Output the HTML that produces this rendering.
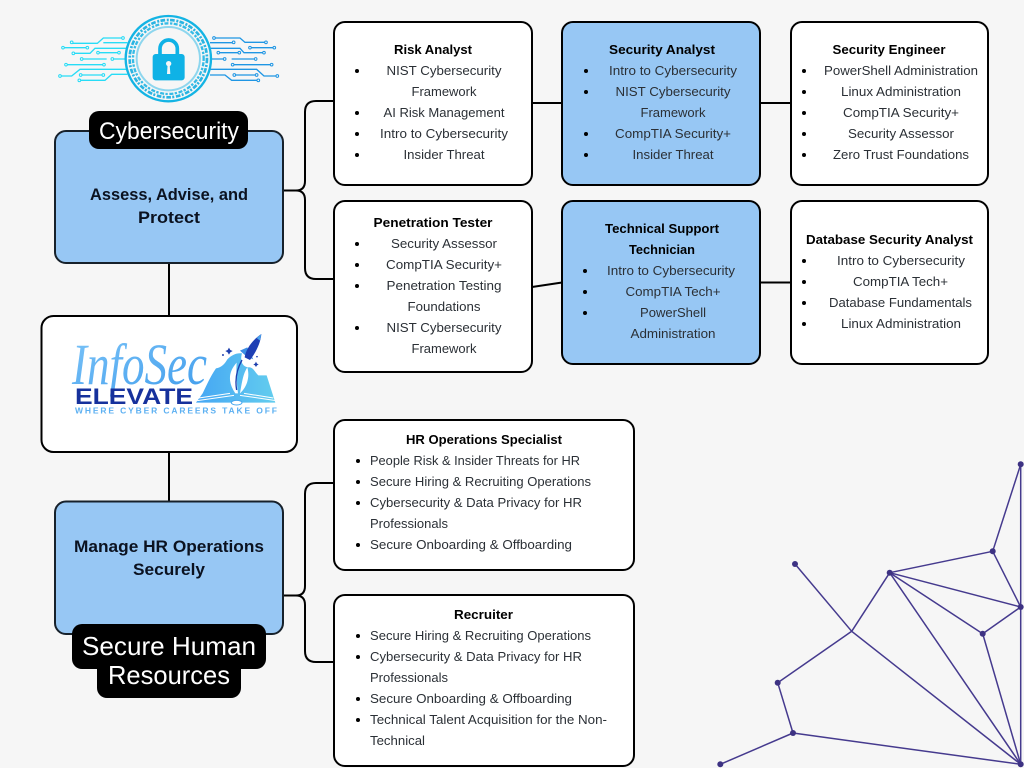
<!DOCTYPE html>
<html lang="en"><head><meta charset="utf-8"><title>Cyber Career Paths</title>
<style>
html,body{margin:0;padding:0;background:#f6f6f6}
svg{display:block}
text{font-family:"Liberation Sans",sans-serif;fill:#2b3036;font-size:13px;text-anchor:middle}
.t{font-weight:bold;fill:#000}
.l{text-anchor:start}
.h{font-size:17px;font-weight:bold;fill:#0b1220}
.w{fill:#fff;font-size:24px}
.box{fill:#fff;stroke:#000;stroke-width:2}
.blue{fill:#97c7f4;stroke:#000;stroke-width:2}
.main{fill:#97c7f4;stroke:#17212b;stroke-width:2}
.c{fill:none;stroke:#000;stroke-width:2}
.n line{stroke:#453a8e;stroke-width:1.5}
.n circle{fill:#3d3283}
.tr{fill:none;stroke-width:4}
</style></head><body>
<svg width="1024" height="768" viewBox="0 0 1024 768" xmlns="http://www.w3.org/2000/svg">
<defs>
<linearGradient id="g1" x1="0" x2="1" y1="0" y2="1"><stop offset="0" stop-color="#7cc4f8"/><stop offset="1" stop-color="#3f9cec"/></linearGradient>
<linearGradient id="g2" x1="0" x2="1" y1="0" y2="0"><stop offset="0" stop-color="#45a6f4"/><stop offset="1" stop-color="#63cdee"/></linearGradient>
</defs>
<rect width="1024" height="768" fill="#f6f6f6"/>

<!-- network -->
<g class="n">
<line x1="1020.7" y1="464.3" x2="992.7" y2="551.3"/>
<line x1="1020.7" y1="464.3" x2="1020.7" y2="764.3"/>
<line x1="992.7" y1="551.3" x2="889.7" y2="572.7"/>
<line x1="992.7" y1="551.3" x2="1020.7" y2="607"/>
<line x1="889.7" y1="572.7" x2="1020.7" y2="607"/>
<line x1="889.7" y1="572.7" x2="982.7" y2="633.7"/>
<line x1="889.7" y1="572.7" x2="1020.7" y2="764.3"/>
<line x1="889.7" y1="572.7" x2="851.7" y2="631.3"/>
<line x1="1020.7" y1="607" x2="982.7" y2="633.7"/>
<line x1="982.7" y1="633.7" x2="1020.7" y2="764.3"/>
<line x1="795" y1="564" x2="851.7" y2="631.3"/>
<line x1="851.7" y1="631.3" x2="1020.7" y2="764.3"/>
<line x1="851.7" y1="631.3" x2="777.7" y2="682.7"/>
<line x1="777.7" y1="682.7" x2="793" y2="733"/>
<line x1="793" y1="733" x2="1020.7" y2="764.3"/>
<line x1="793" y1="733" x2="720.3" y2="764.3"/>
<circle cx="1020.7" cy="464.3" r="3"/><circle cx="992.7" cy="551.3" r="3"/><circle cx="889.7" cy="572.7" r="3"/><circle cx="1020.7" cy="607" r="3"/><circle cx="982.7" cy="633.7" r="3"/><circle cx="795" cy="564" r="3"/><circle cx="777.7" cy="682.7" r="3"/><circle cx="793" cy="733" r="3"/><circle cx="720.3" cy="764.3" r="3"/><circle cx="1020.7" cy="764.3" r="3"/>
</g>

<!-- connectors -->
<path class="c" d="M169 263V316M169 452V501"/>
<path class="c" d="M283 190.5H296Q305 190.5 305 181V112Q305 101 316 101H334M296 190.5Q305 190.5 305 200V268Q305 279 316 279H334"/>
<path class="c" d="M283 595.5H296Q305 595.5 305 586V494Q305 483 316 483H334M296 595.5Q305 595.5 305 605V651Q305 662 316 662H334"/>
<path class="c" d="M532 103H562M760 103H791M532 287L562 282.5M760 282.5H791"/>

<!-- lock emblem -->
<g transform="translate(40 0) scale(.3333)">
<g class="tr" stroke="#27dcf6">
<path d="M249 114H190L172 130H95M262 128H190M69 143H142M100 160H150L165 145H262M174 158H237M125 177H200M217 177H262M78 194H192M60 228H95L120 208H262M122 225H190M118 241H195L215 223H262"/>
<g fill="#f6f6f6" stroke-width="3"><circle cx="249" cy="114" r="4"/><circle cx="95" cy="127" r="4"/><circle cx="69" cy="143" r="4"/><circle cx="142" cy="143" r="4"/><circle cx="100" cy="160" r="4"/><circle cx="174" cy="158" r="4"/><circle cx="237" cy="158" r="4"/><circle cx="125" cy="177" r="4"/><circle cx="217" cy="177" r="4"/><circle cx="78" cy="194" r="4"/><circle cx="192" cy="194" r="4"/><circle cx="60" cy="228" r="4"/><circle cx="122" cy="225" r="4"/><circle cx="190" cy="225" r="4"/><circle cx="118" cy="241" r="4"/></g>
</g>
<g class="tr" stroke="#1f96e4">
<path d="M522 114H600L615 127H678M510 128H580M630 143H703M535 158H598M510 145H600L612 158H672M554 177H510M575 177H647M578 194H695M510 208H650L672 228H712M583 225H650M510 225H555L575 241H655"/>
<g fill="#f6f6f6" stroke-width="3"><circle cx="522" cy="114" r="4"/><circle cx="581" cy="127" r="4"/><circle cx="678" cy="127" r="4"/><circle cx="630" cy="143" r="4"/><circle cx="703" cy="143" r="4"/><circle cx="535" cy="158" r="4"/><circle cx="598" cy="158" r="4"/><circle cx="672" cy="158" r="4"/><circle cx="554" cy="177" r="4"/><circle cx="647" cy="177" r="4"/><circle cx="578" cy="194" r="4"/><circle cx="695" cy="194" r="4"/><circle cx="712" cy="228" r="4"/><circle cx="583" cy="225" r="4"/><circle cx="650" cy="225" r="4"/><circle cx="655" cy="241" r="4"/></g>
</g>
<circle cx="385" cy="176" r="128" fill="#f6f6f6" stroke="#14b4e4" stroke-width="7"/>
<circle cx="385" cy="176" r="116" fill="none" stroke="#2ab4e2" stroke-width="8" stroke-dasharray="14 5 6 4"/>
<circle cx="385" cy="176" r="106" fill="none" stroke="#35bbe6" stroke-width="7" stroke-dasharray="7 4 12 5"/>
<circle cx="385" cy="176" r="95" fill="#f6f6f6" stroke="#8dd6ee" stroke-width="6"/>
<path d="M360 165V146a26 26 0 0 1 52 0V165" fill="none" stroke="#0fb2e6" stroke-width="11"/>
<rect x="338" y="162" width="96" height="79" rx="9" fill="#0fb2e6"/>
<circle cx="386" cy="191" r="8" fill="#f6f6f6"/><path d="M383 192H389L391 222H381Z" fill="#f6f6f6"/>
</g>

<!-- left column -->
<rect class="main" x="55" y="131" width="228" height="132" rx="11"/>
<rect class="box" x="41.5" y="316" width="255.5" height="136" rx="12"/>
<rect class="main" x="55" y="501.5" width="228" height="132.5" rx="11"/>
<rect x="89" y="111" width="159" height="38" rx="10" fill="#000"/>
<text class="w" x="169" y="139" textLength="140" lengthAdjust="spacingAndGlyphs">Cybersecurity</text>
<rect x="72" y="624" width="194" height="45" rx="10" fill="#000"/>
<rect x="97" y="655" width="144" height="43" rx="10" fill="#000"/>
<text class="w" x="169" y="655" style="font-size:26px" textLength="174" lengthAdjust="spacingAndGlyphs">Secure Human</text>
<text class="w" x="169" y="684" style="font-size:26px" textLength="122" lengthAdjust="spacingAndGlyphs">Resources</text>
<text class="h" x="169" y="200" textLength="158" lengthAdjust="spacingAndGlyphs">Assess, Advise, and</text>
<text class="h" x="169" y="223" textLength="62" lengthAdjust="spacingAndGlyphs">Protect</text>
<text class="h" x="169" y="552" textLength="190" lengthAdjust="spacingAndGlyphs">Manage HR Operations</text>
<text class="h" x="169" y="575" textLength="72" lengthAdjust="spacingAndGlyphs">Securely</text>

<!-- logo -->
<text x="139.5" y="384" textLength="135" lengthAdjust="spacingAndGlyphs" style="font-family:'Liberation Serif',serif;font-style:italic;font-size:58px;fill:url(#g1)">InfoSec</text>
<text x="134" y="404" textLength="118" lengthAdjust="spacingAndGlyphs" style="font-size:22px;font-weight:bold;fill:#16319c">ELEVATE</text>
<text x="176" y="413.500" textLength="202" lengthAdjust="spacing" style="font-size:8.5px;font-weight:bold;fill:#5cb0f2">WHERE CYBER CAREERS TAKE OFF</text>
<g transform="translate(40 310) scale(.3333)">
<path d="M488 250C500 225 512 198 528 175C546 172 555 160 562 148C575 135 590 128 606 130C600 150 605 170 625 172C640 170 645 188 655 196H680L706 278H468Z" fill="url(#g2)"/>
<path d="M586 250C562 215 566 185 590 158C588 190 590 220 594 250ZM600 250C606 215 610 190 622 172C630 200 622 230 600 250Z" fill="#fff"/>
<path d="M590 240C584 205 592 175 606 150" fill="none" stroke="#1e3fae" stroke-width="4"/>
<path d="M472 272L582 256M476 264L570 250M708 272L600 256M700 264L612 250" fill="none" stroke="#fff" stroke-width="3"/>
<path d="M470 282H565C575 290 600 290 612 282H708" fill="none" stroke="#fff" stroke-width="4"/>
<ellipse cx="590" cy="278" rx="16" ry="7" fill="#fff" stroke="#49a8ee" stroke-width="3"/>
<path d="M600 122L622 112L640 148L618 138Z" fill="#3d8fe4"/>
<path d="M614 142C618 115 640 88 664 72C662 100 646 130 630 150Z" fill="#1e3fb4"/>
<path d="M650 84L664 72L660 92Z" fill="#4aa2ec"/>
<path d="M567 113L571 120L578 123L571 127L567 134L563 127L556 123L563 120Z" fill="#1e3fae"/>
<circle cx="549" cy="135" r="3" fill="#1e3fae"/><circle cx="651" cy="140" r="2.500" fill="#1e3fae"/>
<path d="M648 155L651 161L656 163L651 166L648 171L645 166L640 163L645 161Z" fill="#1e3fae"/>
</g>

<!-- Risk Analyst -->
<rect class="box" x="334" y="22" width="198" height="163" rx="11"/>
<g fill="#000"><circle cx="357" cy="71" r="2"/><circle cx="357" cy="113" r="2"/><circle cx="357" cy="134" r="2"/><circle cx="357" cy="155" r="2"/></g>
<text class="t" x="433" y="54" textLength="78" lengthAdjust="spacingAndGlyphs">Risk Analyst</text>
<text x="444" y="75" textLength="115" lengthAdjust="spacingAndGlyphs">NIST Cybersecurity</text>
<text x="444" y="96" textLength="65" lengthAdjust="spacingAndGlyphs">Framework</text>
<text x="444" y="117" textLength="121" lengthAdjust="spacingAndGlyphs">AI Risk Management</text>
<text x="444" y="138" textLength="128" lengthAdjust="spacingAndGlyphs">Intro to Cybersecurity</text>
<text x="444" y="159" textLength="81" lengthAdjust="spacingAndGlyphs">Insider Threat</text>

<!-- Security Analyst -->
<rect class="blue" x="562" y="22" width="198" height="163" rx="11"/>
<g fill="#000"><circle cx="586" cy="71" r="2"/><circle cx="586" cy="92" r="2"/><circle cx="586" cy="134" r="2"/><circle cx="586" cy="155" r="2"/></g>
<text class="t" x="662" y="54" textLength="106" lengthAdjust="spacingAndGlyphs">Security Analyst</text>
<text x="673" y="75" textLength="128" lengthAdjust="spacingAndGlyphs">Intro to Cybersecurity</text>
<text x="673" y="96" textLength="115" lengthAdjust="spacingAndGlyphs">NIST Cybersecurity</text>
<text x="673" y="117" textLength="65" lengthAdjust="spacingAndGlyphs">Framework</text>
<text x="673" y="138" textLength="116" lengthAdjust="spacingAndGlyphs">CompTIA Security+</text>
<text x="673" y="159" textLength="81" lengthAdjust="spacingAndGlyphs">Insider Threat</text>

<!-- Security Engineer -->
<rect class="box" x="791" y="22" width="197" height="163" rx="11"/>
<g fill="#000"><circle cx="804" cy="71" r="2"/><circle cx="804" cy="92" r="2"/><circle cx="804" cy="113" r="2"/><circle cx="804" cy="134" r="2"/><circle cx="804" cy="155" r="2"/></g>
<text class="t" x="889" y="54" textLength="113" lengthAdjust="spacingAndGlyphs">Security Engineer</text>
<text x="901" y="75" textLength="154" lengthAdjust="spacingAndGlyphs">PowerShell Administration</text>
<text x="901" y="96" textLength="120" lengthAdjust="spacingAndGlyphs">Linux Administration</text>
<text x="901" y="117" textLength="116" lengthAdjust="spacingAndGlyphs">CompTIA Security+</text>
<text x="901" y="138" textLength="106" lengthAdjust="spacingAndGlyphs">Security Assessor</text>
<text x="901" y="159" textLength="136" lengthAdjust="spacingAndGlyphs">Zero Trust Foundations</text>

<!-- Penetration Tester -->
<rect class="box" x="334" y="201" width="198" height="171" rx="11"/>
<g fill="#000"><circle cx="357" cy="244" r="2"/><circle cx="357" cy="265" r="2"/><circle cx="357" cy="286" r="2"/><circle cx="357" cy="328" r="2"/></g>
<text class="t" x="433" y="227" textLength="119" lengthAdjust="spacingAndGlyphs">Penetration Tester</text>
<text x="444" y="248" textLength="106" lengthAdjust="spacingAndGlyphs">Security Assessor</text>
<text x="444" y="269" textLength="116" lengthAdjust="spacingAndGlyphs">CompTIA Security+</text>
<text x="444" y="290" textLength="115" lengthAdjust="spacingAndGlyphs">Penetration Testing</text>
<text x="444" y="311" textLength="73" lengthAdjust="spacingAndGlyphs">Foundations</text>
<text x="444" y="332" textLength="115" lengthAdjust="spacingAndGlyphs">NIST Cybersecurity</text>
<text x="444" y="353" textLength="65" lengthAdjust="spacingAndGlyphs">Framework</text>

<!-- Technical Support -->
<rect class="blue" x="562" y="201" width="198" height="163" rx="11"/>
<g fill="#000"><circle cx="585" cy="271" r="2"/><circle cx="585" cy="292" r="2"/><circle cx="585" cy="313" r="2"/></g>
<text class="t" x="662" y="233" textLength="114" lengthAdjust="spacingAndGlyphs">Technical Support</text>
<text class="t" x="662" y="254" textLength="66" lengthAdjust="spacingAndGlyphs">Technician</text>
<text x="671" y="275" textLength="128" lengthAdjust="spacingAndGlyphs">Intro to Cybersecurity</text>
<text x="673" y="296" textLength="95" lengthAdjust="spacingAndGlyphs">CompTIA Tech+</text>
<text x="673" y="317" textLength="66" lengthAdjust="spacingAndGlyphs">PowerShell</text>
<text x="673" y="338" textLength="85" lengthAdjust="spacingAndGlyphs">Administration</text>

<!-- Database -->
<rect class="box" x="791" y="201" width="197" height="163" rx="11"/>
<g fill="#000"><circle cx="804" cy="261" r="2"/><circle cx="804" cy="282" r="2"/><circle cx="804" cy="303" r="2"/><circle cx="804" cy="324" r="2"/></g>
<text class="t" x="889.500" y="244" textLength="167" lengthAdjust="spacingAndGlyphs">Database Security Analyst</text>
<text x="901" y="265" textLength="128" lengthAdjust="spacingAndGlyphs">Intro to Cybersecurity</text>
<text x="900.500" y="286" textLength="95" lengthAdjust="spacingAndGlyphs">CompTIA Tech+</text>
<text x="900.500" y="307" textLength="143" lengthAdjust="spacingAndGlyphs">Database Fundamentals</text>
<text x="901" y="328" textLength="120" lengthAdjust="spacingAndGlyphs">Linux Administration</text>

<!-- HR Ops -->
<rect class="box" x="334" y="420" width="300" height="150" rx="11"/>
<g fill="#000"><circle cx="358" cy="461" r="2"/><circle cx="358" cy="482" r="2"/><circle cx="358" cy="503" r="2"/><circle cx="358" cy="545" r="2"/></g>
<text class="t" x="484" y="444" textLength="156" lengthAdjust="spacingAndGlyphs">HR Operations Specialist</text>
<text class="l" x="370" y="465" textLength="210" lengthAdjust="spacingAndGlyphs">People Risk &amp; Insider Threats for HR</text>
<text class="l" x="370" y="486" textLength="221" lengthAdjust="spacingAndGlyphs">Secure Hiring &amp; Recruiting Operations</text>
<text class="l" x="370" y="507" textLength="212" lengthAdjust="spacingAndGlyphs">Cybersecurity &amp; Data Privacy for HR</text>
<text class="l" x="370" y="528" textLength="78" lengthAdjust="spacingAndGlyphs">Professionals</text>
<text class="l" x="370" y="549" textLength="202" lengthAdjust="spacingAndGlyphs">Secure Onboarding &amp; Offboarding</text>

<!-- Recruiter -->
<rect class="box" x="334" y="595" width="300" height="171" rx="11"/>
<g fill="#000"><circle cx="358" cy="636" r="2"/><circle cx="358" cy="657" r="2"/><circle cx="358" cy="699" r="2"/><circle cx="358" cy="720" r="2"/></g>
<text class="t" x="483.500" y="619" textLength="59" lengthAdjust="spacingAndGlyphs">Recruiter</text>
<text class="l" x="370" y="640" textLength="221" lengthAdjust="spacingAndGlyphs">Secure Hiring &amp; Recruiting Operations</text>
<text class="l" x="370" y="661" textLength="212" lengthAdjust="spacingAndGlyphs">Cybersecurity &amp; Data Privacy for HR</text>
<text class="l" x="370" y="682" textLength="78" lengthAdjust="spacingAndGlyphs">Professionals</text>
<text class="l" x="370" y="703" textLength="202" lengthAdjust="spacingAndGlyphs">Secure Onboarding &amp; Offboarding</text>
<text class="l" x="370" y="724" textLength="237" lengthAdjust="spacingAndGlyphs">Technical Talent Acquisition for the Non-</text>
<text class="l" x="370" y="745" textLength="55" lengthAdjust="spacingAndGlyphs">Technical</text>
</svg>
</body></html>
